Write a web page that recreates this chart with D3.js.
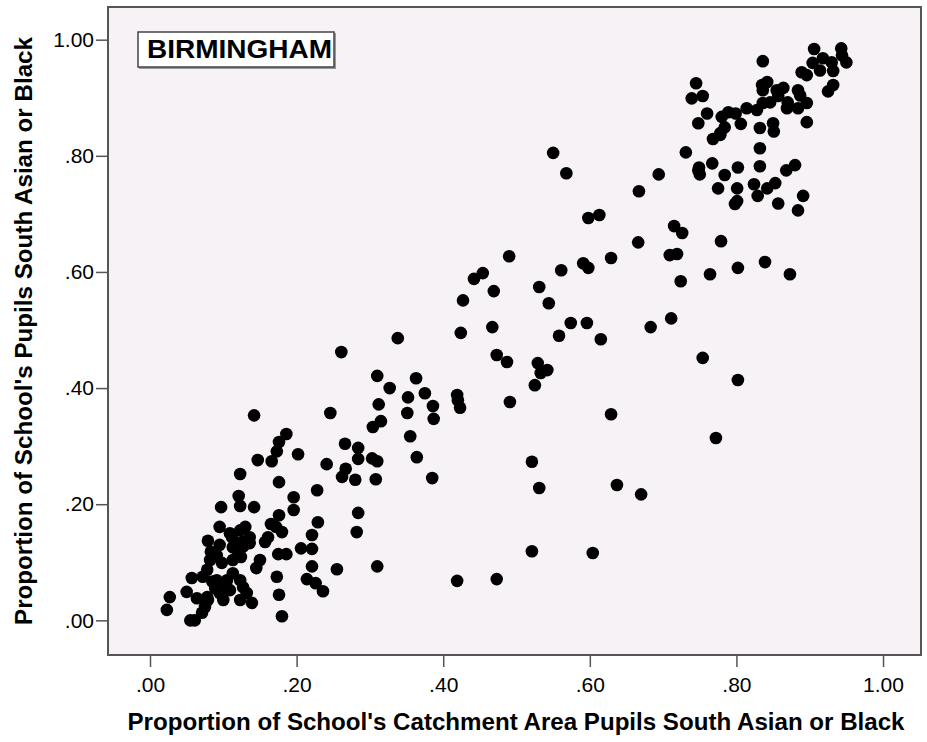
<!DOCTYPE html>
<html>
<head>
<meta charset="utf-8">
<script src="https://cdn.jsdelivr.net/npm/d3@7"></script>
<style>
  body { margin: 0; background: #fff; }
  svg { display: block; font-family: "Liberation Sans", Arial, sans-serif; }
</style>
</head>
<body>
<script>
// Scatter data: catchment share (x) vs school share (y)
const lowX = [.142,.186,.176,.173,.202,.147,.166,.123,.176,.121,
  .123,.142,.097,.196,.196,.176,.165,.172,.180,.095,
  .130,.161,.157,.136,.079,.095,.112,.126,.113,.175,
  .186,.150,.145,.173,.176,.180,.109,.123,.082,.078,
  .072,.091,.098,.057,.050,.027,.023,.064,.055,.061,
  .075,.079,.091,.105,.113,.123,.127,.109,.095,.100,
  .123,.132,.139,.071,.113,.119,.124,.083,.085,.104,
  .089,.078,.127,.136,.118];
const lowY = [.353,.321,.307,.291,.286,.276,.274,.252,.238,.214,
  .197,.195,.195,.212,.190,.181,.166,.161,.152,.161,
  .161,.143,.135,.143,.137,.130,.143,.135,.126,.114,
  .114,.104,.090,.075,.044,.007,.150,.155,.104,.087,
  .075,.112,.099,.073,.049,.040,.018,.038,.000,.000,
  .023,.035,.069,.069,.081,.069,.057,.052,.047,.035,
  .035,.047,.030,.013,.104,.121,.109,.118,.067,.057,
  .055,.040,.127,.133,.133];

const midX = [.246,.266,.267,.262,.241,.228,.229,.221,.206,.221,
  .221,.255,.214,.226,.236,.310,.284,.282,.261,.338,
  .310,.363,.327,.352,.375,.386,.387,.312,.351,.315,
  .304,.355,.364,.385,.284,.284,.303,.310,.308,.280,
  .419,.420,.423,.424,.467,.473,.487,.427,.442,.454,
  .469,.490,.491,.419,.473,.529,.542,.533,.525,.521,
  .531,.521,.604,.629,.637,.670,.772,.802,.754,.531,
  .544,.558,.574,.596,.615,.683,.711,.561,.591,.598,
  .629,.550,.568,.598,.613,.667,.666,.694,.715,.726,
  .709,.719,.724,.764,.779,.802,.839,.873];
const midY = [.357,.304,.261,.247,.269,.224,.169,.147,.124,.123,
  .093,.088,.071,.064,.050,.093,.185,.152,.462,.486,
  .421,.417,.400,.384,.391,.369,.347,.372,.357,.343,
  .333,.317,.281,.245,.297,.278,.279,.274,.243,.242,
  .388,.379,.366,.495,.505,.457,.445,.551,.588,.598,
  .567,.627,.376,.068,.071,.443,.431,.426,.405,.273,
  .228,.119,.116,.355,.233,.217,.314,.414,.452,.574,
  .546,.490,.512,.512,.484,.505,.520,.603,.615,.607,
  .624,.805,.770,.693,.698,.739,.651,.768,.679,.667,
  .629,.631,.584,.596,.653,.607,.617,.596];

const highX = [.731,.768,.778,.767,.748,.750,.784,.775,.801,.801,
  .798,.824,.842,.853,.829,.857,.891,.884,.868,.880,
  .832,.832,.802,.745,.739,.754,.836,.906,.943,.944,
  .950,.918,.930,.914,.932,.889,.896,.904,.932,.925,
  .835,.842,.836,.855,.864,.857,.884,.887,.896,.884,
  .870,.869,.846,.836,.828,.814,.799,.789,.780,.760,
  .748,.784,.778,.806,.832,.850,.851,.896,.749];
const highY = [.806,.829,.836,.787,.775,.768,.767,.744,.744,.722,
  .717,.751,.744,.753,.731,.718,.731,.706,.775,.784,
  .782,.813,.780,.925,.899,.903,.963,.984,.985,.973,
  .961,.968,.961,.947,.946,.944,.939,.960,.922,.911,
  .922,.927,.913,.913,.917,.903,.913,.904,.891,.882,
  .892,.882,.892,.891,.879,.882,.873,.875,.867,.873,
  .856,.849,.839,.855,.848,.856,.842,.858,.780];

const tickValues = [0, .2, .4, .6, .8, 1];
const tickLabels = ['.00', '.20', '.40', '.60', '.80', '1.00'];

const xTitle = "Proportion of School's Catchment Area Pupils South Asian or Black";
const yTitle = "Proportion of School's Pupils South Asian or Black";
const cityLabel = 'BIRMINGHAM';

// Layout ---------------------------
const width = 927, height = 742;
const frame = {left: 108, right: 921, top: 7, bottom: 655};

const svg = d3.select('body').append('svg')
  .attr('width', width)
  .attr('height', height);

const xScale = d3.scaleLinear()
  .domain([-0.0573, 1.0518])
  .range([frame.left, frame.right]);

const yScale = d3.scaleLinear()
  .domain([-0.0597, 1.0563])
  .range([frame.bottom, frame.top]);

// plot background
svg.append('rect')
  .attr('x', frame.left).attr('y', frame.top)
  .attr('width', frame.right - frame.left)
  .attr('height', frame.bottom - frame.top)
  .attr('fill', '#f6f2f6');

// Axes -----------------------------
const fmt = d => tickLabels[tickValues.indexOf(d)];

const xAxis = svg.append('g')
  .attr('transform', `translate(0, ${frame.bottom})`)
  .call(d3.axisBottom(xScale).tickValues(tickValues).tickFormat(fmt)
        .tickSize(12).tickSizeOuter(0).tickPadding(10));

const yAxis = svg.append('g')
  .attr('transform', `translate(${frame.left}, 0)`)
  .call(d3.axisLeft(yScale).tickValues(tickValues).tickFormat(fmt)
        .tickSize(12).tickSizeOuter(0).tickPadding(2));

[xAxis, yAxis].forEach(ax => {
  ax.select('.domain').remove();
  ax.selectAll('.tick line').attr('stroke', '#555').attr('stroke-width', 1.5);
  ax.selectAll('.tick text')
    .attr('fill', '#000')
    .style('font-size', '21px');
});

// frame
svg.append('rect')
  .attr('x', frame.left).attr('y', frame.top)
  .attr('width', frame.right - frame.left)
  .attr('height', frame.bottom - frame.top)
  .attr('fill', 'none')
  .attr('stroke', '#555')
  .attr('stroke-width', 2);

// Points ---------------------------
const points = [
  ...lowX.map((x, i) => [x, lowY[i]]),
  ...midX.map((x, i) => [x, midY[i]]),
  ...highX.map((x, i) => [x, highY[i]])
];

svg.append('g')
  .selectAll('circle')
  .data(points)
  .enter()
  .append('circle')
  .attr('cx', d => xScale(d[0]))
  .attr('cy', d => yScale(d[1]))
  .attr('r', 6.3)
  .attr('fill', '#000');

// City label box -------------------
svg.append('rect')
  .attr('x', 139).attr('y', 33).attr('width', 197).attr('height', 36)
  .attr('fill', '#999');
svg.append('rect')
  .attr('x', 138).attr('y', 32).attr('width', 196).attr('height', 35)
  .attr('fill', '#fff')
  .attr('stroke', '#444')
  .attr('stroke-width', 1.5);
svg.append('text')
  .attr('x', 147).attr('y', 58)
  .attr('textLength', 185)
  .attr('lengthAdjust', 'spacingAndGlyphs')
  .style('font-size', '26px')
  .style('font-weight', 'bold')
  .text(cityLabel);

// Axis titles ----------------------
svg.append('text')
  .attr('x', 516).attr('y', 730)
  .attr('text-anchor', 'middle')
  .attr('textLength', 777)
  .attr('lengthAdjust', 'spacingAndGlyphs')
  .style('font-size', '23px')
  .style('font-weight', 'bold')
  .text(xTitle);

svg.append('text')
  .attr('transform', 'translate(32, 331) rotate(-90)')
  .attr('text-anchor', 'middle')
  .attr('textLength', 588)
  .attr('lengthAdjust', 'spacingAndGlyphs')
  .style('font-size', '23px')
  .style('font-weight', 'bold')
  .text(yTitle);
</script>
</body>
</html>
